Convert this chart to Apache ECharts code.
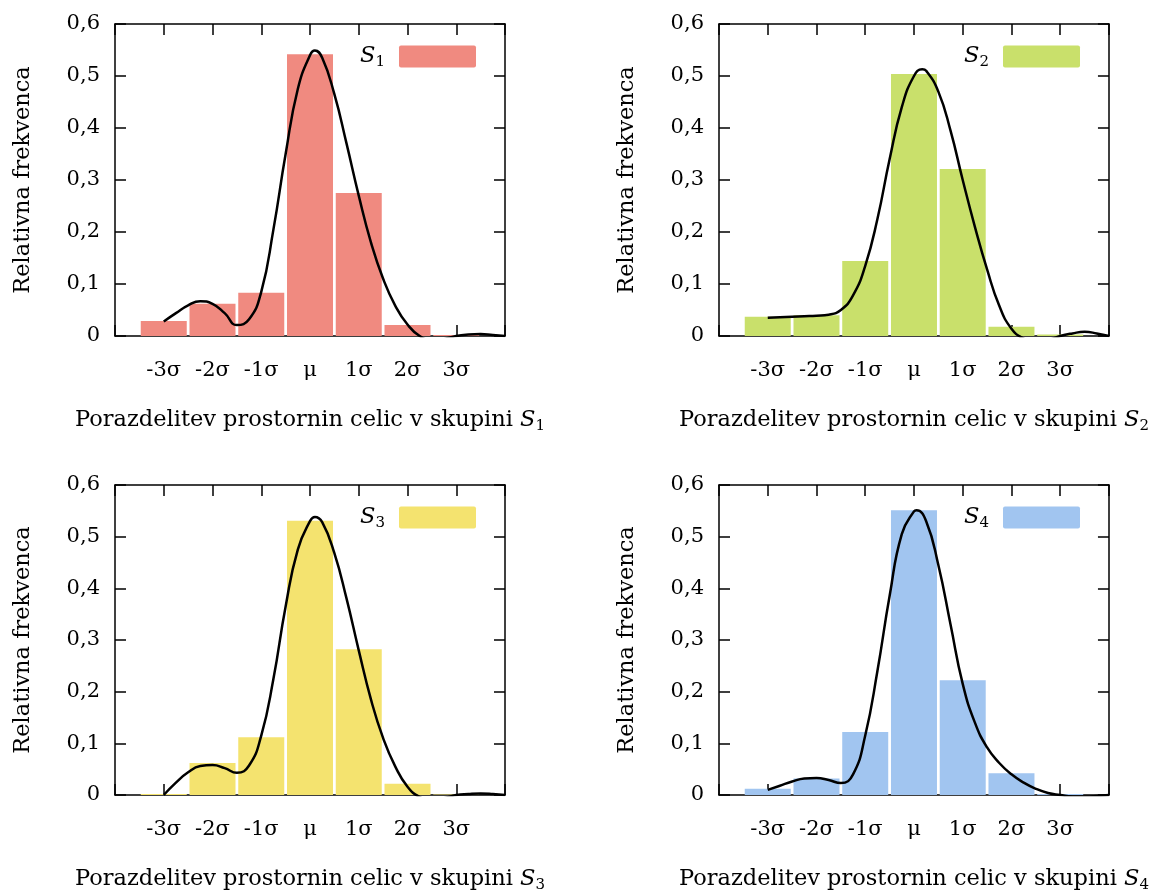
<!DOCTYPE html>
<html>
<head>
<meta charset="utf-8">
<script src="https://cdn.jsdelivr.net/npm/echarts@6/dist/echarts.min.js"></script>
<style>
  html, body { margin: 0; padding: 0; background: #fff; }
  #chart { width: 1151px; height: 894px; }
</style>
</head>
<body>
<div id="chart"></div>
<script>
// bins, in units of sigma
var sigmaTicks = [-3, -2, -1, 0, 1, 2, 3];
var sigmaLabels = ['-3σ', '-2σ', '-1σ', 'μ', '1σ', '2σ', '3σ'];
var groups = ['S1', 'S2', 'S3', 'S4'];

// histogram heights (relative frequency)
var barsS1 = [0.029, 0.062, 0.083, 0.542, 0.275, 0.021, 0.002];
var barsS2 = [0.037, 0.040, 0.144, 0.504, 0.321, 0.018, 0.003];
var barsS3 = [0.002, 0.062, 0.112, 0.531, 0.282, 0.022, 0.001];
var barsS4 = [0.012, 0.032, 0.122, 0.551, 0.222, 0.042, 0.002];

// density curves (x in sigma)
var curveX1 = [-3, -2.75, -2.5, -2.25, -2, -1.75, -1.5, -1.25, -1, -0.75, -0.5, -0.25, 0, 0.1, 0.25, 0.5, 0.75, 1, 1.25, 1.5, 1.75, 2, 2.25, 2.5, 2.75, 3, 3.25, 3.5, 3.75, 4];
var curveY1 = [0.028, 0.044, 0.059, 0.067, 0.062, 0.044, 0.021, 0.032, 0.085, 0.205, 0.350, 0.475, 0.540, 0.549, 0.535, 0.465, 0.370, 0.270, 0.180, 0.110, 0.058, 0.022, 0, -0.008, -0.006, 0, 0.003, 0.004, 0.002, 0];

var curveX2 = [-3, -2.75, -2.5, -2.25, -2, -1.75, -1.5, -1.25, -1, -0.75, -0.5, -0.25, 0, 0.17, 0.25, 0.5, 0.75, 1, 1.25, 1.5, 1.75, 2, 2.25, 2.5, 2.75, 3, 3.25, 3.5, 3.75, 4];
var curveY2 = [0.035, 0.036, 0.037, 0.038, 0.039, 0.041, 0.050, 0.078, 0.135, 0.225, 0.340, 0.440, 0.500, 0.513, 0.510, 0.470, 0.395, 0.300, 0.210, 0.128, 0.058, 0.014, -0.005, -0.012, -0.008, 0, 0.005, 0.008, 0.005, 0];

var curveX3 = [-3, -2.75, -2.5, -2.25, -2, -1.75, -1.5, -1.25, -1, -0.75, -0.5, -0.25, 0, 0.1, 0.25, 0.5, 0.75, 1, 1.25, 1.5, 1.75, 2, 2.25, 2.5, 2.75, 3, 3.25, 3.5, 3.75, 4];
var curveY3 = [0, 0.024, 0.044, 0.056, 0.058, 0.052, 0.043, 0.057, 0.115, 0.225, 0.365, 0.475, 0.530, 0.538, 0.528, 0.468, 0.380, 0.280, 0.185, 0.110, 0.055, 0.016, -0.004, -0.010, -0.006, 0, 0.002, 0.003, 0.002, 0];

var curveX4 = [-3, -2.75, -2.5, -2.25, -2, -1.75, -1.5, -1.25, -1, -0.75, -0.5, -0.25, 0, 0.05, 0.25, 0.5, 0.75, 1, 1.25, 1.5, 1.75, 2, 2.25, 2.5, 2.75, 3, 3.25, 3.5, 3.75, 4];
var curveY4 = [0.010, 0.018, 0.026, 0.032, 0.033, 0.029, 0.023, 0.040, 0.115, 0.240, 0.385, 0.505, 0.549, 0.551, 0.530, 0.445, 0.330, 0.215, 0.140, 0.092, 0.062, 0.040, 0.024, 0.012, 0.004, 0, -0.003, -0.003, -0.002, 0];

var colors = ['#f08a80', '#c9e06b', '#f4e36f', '#a1c5f0'];
var bars = [barsS1, barsS2, barsS3, barsS4];
var curvesX = [curveX1, curveX2, curveX3, curveX4];
var curvesY = [curveY1, curveY2, curveY3, curveY4];

var font = 'DejaVu Serif';
var fs = 21;
var grids = [
  { left: 115, top: 24, width: 390, height: 312 },
  { left: 719, top: 24, width: 391, height: 312 },
  { left: 115, top: 485, width: 390, height: 313 },
  { left: 719, top: 485, width: 391, height: 313 }
];

function xLabel(v) {
  var i = sigmaTicks.indexOf(v);
  return i < 0 ? '' : sigmaLabels[i];
}
function yLabel(v) {
  if (v === 0) return '0';
  return v.toFixed(1).replace('.', ',');
}
var subRich = {
  t: { fontFamily: font, fontSize: 22.5, color: '#000' },
  s: { fontFamily: font, fontSize: 22.5, fontStyle: 'italic', color: '#000' },
  n: { fontFamily: font, fontSize: 15, color: '#000', verticalAlign: 'bottom', padding: [12, 0, 0, 0] }
};
var boxIcon = 'path://M2,0 H75 Q77,0 77,2 V20 Q77,22 75,22 H2 Q0,22 0,20 V2 Q0,0 2,0 Z';

var xAxes = [], yAxes = [], series = [], legends = [];
grids.forEach(function (g, i) {
  var lineStyle = { color: '#000', width: 1.5 };
  xAxes.push({
    type: 'value', gridIndex: i, min: -4, max: 4, interval: 1, position: 'bottom',
    axisLine: { onZero: false, lineStyle: lineStyle },
    axisTick: { inside: true, length: 11, lineStyle: lineStyle },
    axisLabel: { formatter: xLabel, fontFamily: font, fontSize: fs, color: '#000', margin: 24 },
    splitLine: { show: false },
    name: '{t|Porazdelitev prostornin celic v skupini }{s|S}{n|' + (i + 1) + '}',
    nameLocation: 'middle', nameGap: 71,
    nameTextStyle: { rich: subRich }
  });
  xAxes.push({
    type: 'value', gridIndex: i, min: -4, max: 4, interval: 1, position: 'top',
    axisLine: { onZero: false, lineStyle: lineStyle },
    axisTick: { inside: true, length: 11, lineStyle: lineStyle },
    axisLabel: { show: false }, splitLine: { show: false }
  });
  yAxes.push({
    type: 'value', gridIndex: i, min: 0, max: 0.6, interval: 0.1, position: 'left',
    axisLine: { show: true, onZero: false, lineStyle: lineStyle },
    axisTick: { show: true, inside: true, length: 11, lineStyle: lineStyle },
    axisLabel: { formatter: yLabel, fontFamily: font, fontSize: fs, color: '#000', margin: 15 },
    splitLine: { show: false },
    name: 'Relativna frekvenca', nameLocation: 'middle', nameGap: 80,
    nameTextStyle: { fontFamily: font, fontSize: 22.5, color: '#000' }
  });
  yAxes.push({
    type: 'value', gridIndex: i, min: 0, max: 0.6, interval: 0.1, position: 'right',
    axisLine: { show: true, onZero: false, lineStyle: lineStyle },
    axisTick: { show: true, inside: true, length: 11, lineStyle: lineStyle },
    axisLabel: { show: false }, splitLine: { show: false }
  });

  series.push({
    name: groups[i], type: 'bar', xAxisIndex: i * 2, yAxisIndex: i * 2,
    barWidth: 46, itemStyle: { color: colors[i] },
    data: sigmaTicks.map(function (x, k) { return [x, bars[i][k]]; })
  });
  series.push({
    name: groups[i] + ' krivulja', type: 'line', xAxisIndex: i * 2, yAxisIndex: i * 2,
    smooth: 0.5, symbol: 'none', clip: true, z: 5,
    lineStyle: { color: '#000', width: 2.5 },
    data: curvesX[i].map(function (x, k) { return [x, curvesY[i][k]]; })
  });

  legends.push({
    data: [groups[i]], align: 'right', orient: 'vertical',
    right: 1151 - (g.left + 361), top: g.top + 21, padding: 0,
    itemWidth: 77, itemHeight: 22, icon: boxIcon,
    formatter: function () { return '{s|S}{n|' + (i + 1) + '}{g|}'; },
    textStyle: { rich: { s: subRich.s, n: subRich.n, g: { width: 9 } } }
  });
});

var chart = echarts.init(document.getElementById('chart'));
chart.setOption({
  animation: false,
  backgroundColor: '#fff',
  grid: grids,
  xAxis: xAxes,
  yAxis: yAxes,
  legend: legends,
  series: series
});
</script>
</body>
</html>
